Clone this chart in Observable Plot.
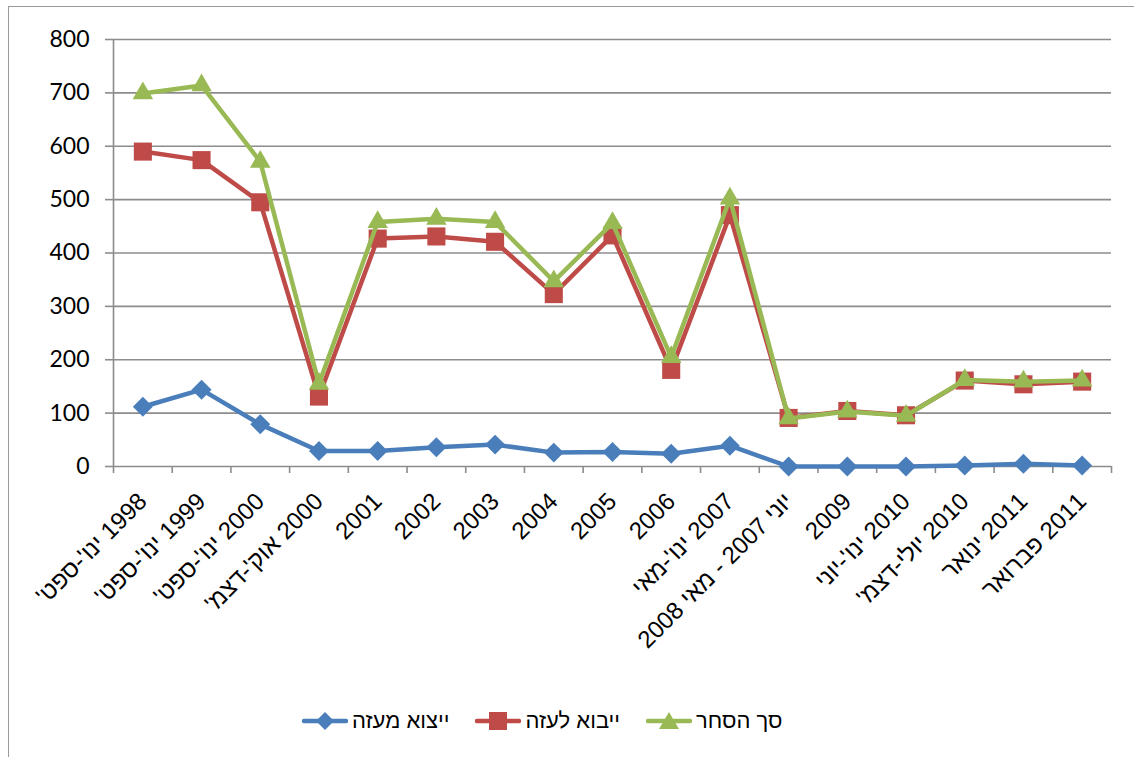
<!DOCTYPE html>
<html>
<head>
<meta charset="utf-8">
<script src="https://cdn.jsdelivr.net/npm/d3@7"></script>
<script src="https://cdn.jsdelivr.net/npm/@observablehq/plot@0.6"></script>
<style>
  html, body { margin: 0; padding: 0; background: #fff; }
  #wrap { position: relative; width: 1134px; height: 757px; overflow: hidden; }
  #frame { position: absolute; left: 8px; top: 6px; width: 1200px; height: 800px;
           border-left: 1.5px solid #9a9a9a; border-top: 1.5px solid #9a9a9a; box-sizing: border-box; }
  #chart { position: absolute; left: 0; top: 0; }
  #legend { position: absolute; left: 302px; top: 708px; display: flex; align-items: center;
            font-family: "Liberation Sans", Arial, "DejaVu Sans", sans-serif; font-size: 22px; color: #000; }
  .item { display: flex; align-items: center; margin-right: 26px; }
  .item span { margin-left: 4px; direction: rtl; unicode-bidi: embed; }
</style>
</head>
<body>
<div id="wrap">
  <div id="frame"></div>
  <div id="chart"></div>
  <div id="legend"></div>
</div>
<script>
// ---- data ----
const categories = [
  "1998 ינו'-ספט'", "1999 ינו'-ספט'", "2000 ינו'-ספט'", "2000 אוק'-דצמ'",
  "2001", "2002", "2003", "2004", "2005", "2006",
  "2007 ינו'-מאי", "יוני 2007 - מאי 2008", "2009",
  "2010 ינו'-יוני", "2010 יולי-דצמ'", "2011 ינואר", "2011 פברואר"
];
const exportFromGaza = [112, 144, 79, 29, 29, 36, 41, 26, 27, 24, 39, 0, 0, 0, 2, 5, 2];
const importToGaza   = [590, 574, 495, 131, 427, 431, 421, 323, 433, 181, 471, 91, 104, 96, 161, 154, 159];
const totalTrade     = [699, 714, 571, 155, 458, 464, 458, 347, 456, 205, 502, 90, 103, 95, 162, 159, 161];
const seriesNames = ["ייצוא מעזה", "ייבוא לעזה", "סך הסחר"];
const yTicks = [0, 100, 200, 300, 400, 500, 600, 700, 800];

const colors = ["#4A7EBB", "#BE4B48", "#98B954"];
const symbols = ["diamond2", "square", "triangle"];
const radii = [9, 10.2, 7.6];
const valuesList = [exportFromGaza, importToGaza, totalTrade];

const series = seriesNames.map((name, s) =>
  valuesList[s].map((v, i) => ({series: name, i, value: v})));

const RLE = "\u202B", PDF = "\u202C";
const gridColor = "#8c8c8c";

const marks = [
  Plot.ruleY(yTicks.slice(1), {stroke: gridColor, strokeWidth: 1.6}),
  Plot.ruleY([0], {stroke: gridColor, strokeWidth: 1.6}),
  Plot.ruleX([-0.5], {y1: 0, y2: 800, stroke: gridColor, strokeWidth: 1.6}),
  Plot.axisY({ticks: yTicks, label: null, tickSize: 8, tickPadding: 16, stroke: gridColor, strokeWidth: 1.6,
              fontSize: 23, fontFamily: "Lato, 'Open Sans', sans-serif", fill: "#000"}),
  Plot.axisX({ticks: d3.range(-0.5, 17, 1), label: null, tickSize: 7, tickFormat: () => "", stroke: gridColor, strokeWidth: 1.6}),
  Plot.axisX({ticks: d3.range(categories.length), label: null, tickSize: 0, tickPadding: 31, tickRotate: -45,
              textAnchor: "end", tickFormat: i => RLE + categories[i] + PDF,
              fontSize: 24, fontFamily: "'Liberation Sans', Arial, 'DejaVu Sans', sans-serif", fill: "#000"})
];
series.forEach((data, s) => {
  marks.push(Plot.line(data, {x: "i", y: "value", stroke: colors[s], strokeWidth: 4.5,
                              strokeLinejoin: "round", strokeLinecap: "round"}));
  marks.push(Plot.dot(data, {x: "i", y: "value", symbol: symbols[s], r: radii[s],
                             fill: colors[s], stroke: "none"}));
});

const chart = Plot.plot({
  width: 1134,
  height: 700,
  marginLeft: 113,
  marginRight: 23,
  marginTop: 39,
  marginBottom: 234,
  x: {domain: [-0.5, categories.length - 0.5], axis: null},
  y: {domain: [0, 800], axis: null},
  style: {background: "transparent", color: "#000", overflow: "visible"},
  marks
});
document.getElementById("chart").appendChild(chart);

// ---- legend ----
const legend = document.getElementById("legend");
const markerPaths = [
  '<path d="M23,2 L32,11 L23,20 L14,11 Z"/>',
  '<rect x="14" y="2" width="18" height="18"/>',
  '<path d="M23,2 L33,19 L13,19 Z"/>'
];
seriesNames.forEach((name, s) => {
  const item = document.createElement("div");
  item.className = "item";
  item.innerHTML =
    `<svg width="46" height="22" viewBox="0 0 46 22"><line x1="2" y1="11" x2="44" y2="11" stroke="${colors[s]}" stroke-width="4.5" stroke-linecap="round"/>` +
    `<g fill="${colors[s]}">${markerPaths[s]}</g></svg><span>${name}</span>`;
  legend.appendChild(item);
});
</script>
</body>
</html>
